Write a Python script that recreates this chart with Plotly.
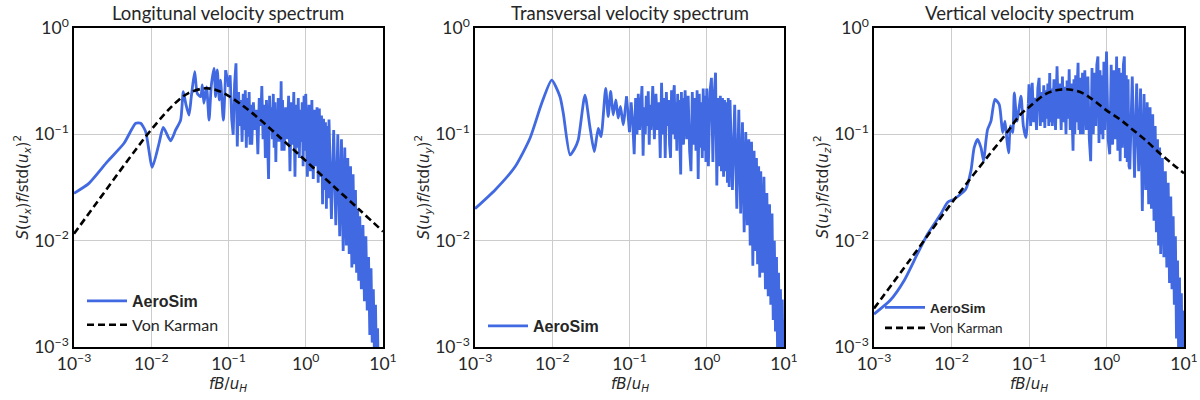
import plotly.graph_objects as go

# ---------------- data ----------------
# shared high-frequency bins (fB/u_H)
f_hf = [0.100, 0.105, 0.110, 0.115, 0.120, 0.125, 0.130, 0.135, 0.140, 0.145,
        0.150, 0.155, 0.160, 0.165, 0.170, 0.175, 0.180, 0.185, 0.190, 0.195,
        0.20, 0.21, 0.22, 0.23, 0.24, 0.25, 0.26, 0.27, 0.28, 0.29,
        0.30, 0.31, 0.32, 0.33, 0.34, 0.35, 0.36, 0.37, 0.38, 0.39,
        0.40, 0.41, 0.42, 0.43, 0.44, 0.45, 0.46, 0.47, 0.48, 0.49,
        0.500, 0.525, 0.550, 0.575, 0.600, 0.625, 0.650, 0.675, 0.700, 0.725,
        0.750, 0.775, 0.800, 0.825, 0.850, 0.875, 0.900, 0.925, 0.950, 0.975,
        1.00, 1.05, 1.10, 1.15, 1.20, 1.25, 1.30, 1.35, 1.40, 1.45,
        1.50, 1.55, 1.60, 1.65, 1.70, 1.75, 1.80, 1.85, 1.90, 1.95,
        2.00, 2.15, 2.30, 2.45, 2.60, 2.75, 2.90, 3.05, 3.20, 3.35,
        3.50, 3.65, 3.80, 3.95, 4.10, 4.25, 4.40, 4.55, 4.70, 4.85,
        5.00, 5.25, 5.50, 5.75, 6.00, 6.25, 6.50, 6.75, 7.00, 7.25,
        7.50, 7.75, 8.00, 8.25, 8.50, 8.75, 9.00, 9.25, 9.50, 9.75, 10.0]

# --- longitudinal (u_x) ---
f_low_x = [0.001, 0.00156, 0.0027, 0.00444, 0.0063, 0.0073, 0.00847, 0.0103, 0.0126,
           0.0143, 0.0178, 0.0207, 0.024, 0.026, 0.0279, 0.0308, 0.033, 0.0365, 0.0394,
           0.0437, 0.0458, 0.048, 0.052, 0.056, 0.060, 0.065, 0.068, 0.0716, 0.076,
           0.079, 0.0857, 0.092]
S_low_x = [0.0279, 0.0346, 0.0553, 0.0824, 0.127, 0.127, 0.106, 0.049, 0.082,
           0.116, 0.087, 0.11, 0.136, 0.252, 0.196, 0.152, 0.226, 0.388, 0.243,
           0.226, 0.291, 0.196, 0.28, 0.136, 0.291, 0.418, 0.226, 0.403, 0.21,
           0.324, 0.136, 0.40]
S_hf_x = [0.28, 0.36, 0.14, 0.099, 0.30, 0.466, 0.077, 0.25, 0.12, 0.21,
          0.085, 0.24, 0.11, 0.26, 0.075, 0.22, 0.095, 0.25, 0.08, 0.19,
          0.08, 0.20, 0.11, 0.17, 0.065, 0.22, 0.12, 0.284, 0.09, 0.19,
          0.06, 0.21, 0.10, 0.038, 0.23, 0.11, 0.18, 0.09, 0.24, 0.075,
          0.20, 0.055, 0.17, 0.10, 0.22, 0.085, 0.19, 0.10, 0.316, 0.07,
          0.21, 0.07, 0.18, 0.09, 0.23, 0.045, 0.20, 0.08, 0.25, 0.04,
          0.19, 0.075, 0.22, 0.06, 0.17, 0.085, 0.20, 0.05, 0.23, 0.07,
          0.24, 0.04, 0.19, 0.045, 0.21, 0.038, 0.17, 0.05, 0.18, 0.035,
          0.175, 0.04, 0.15, 0.022, 0.14, 0.03, 0.13, 0.02, 0.12, 0.025,
          0.138, 0.016, 0.11, 0.014, 0.10, 0.011, 0.09, 0.008, 0.075, 0.009,
          0.06, 0.0075, 0.05, 0.0056, 0.042, 0.006, 0.03, 0.005, 0.02, 0.0042,
          0.017, 0.0035, 0.014, 0.0027, 0.011, 0.0022, 0.007, 0.0013, 0.0055, 0.0011,
          0.0035, 0.0008, 0.0025, 0.0006, 0.0015, 0.0004, 0.0008, 0.0003, 0.0004, 0.0002, 0.0002]
f_vk_x = [0.001, 0.002, 0.005, 0.01, 0.02, 0.03, 0.05, 0.07, 0.1, 0.2, 0.5, 1, 2, 5, 10]
S_vk_x = [0.0116, 0.0231, 0.0573, 0.1106, 0.194, 0.243, 0.271, 0.26, 0.23, 0.16,
          0.089, 0.0564, 0.0356, 0.0194, 0.0122]

# --- transversal (u_y) ---
f_low_y = [0.001, 0.00182, 0.0033, 0.00515, 0.0073, 0.00984, 0.0126, 0.0139, 0.017,
           0.0196, 0.0217, 0.0265, 0.0307, 0.035, 0.0394, 0.0428, 0.0492, 0.053, 0.057,
           0.0615, 0.0666, 0.0713, 0.0765, 0.0828, 0.0915]
S_low_y = [0.020, 0.030, 0.0496, 0.092, 0.196, 0.324, 0.226, 0.158, 0.064,
           0.074, 0.0885, 0.234, 0.118, 0.0687, 0.114, 0.095, 0.271, 0.147, 0.253,
           0.152, 0.211, 0.142, 0.183, 0.123, 0.227]
S_hf_y = [0.105, 0.20, 0.13, 0.065, 0.22, 0.10, 0.24, 0.11, 0.20, 0.284,
          0.063, 0.18, 0.10, 0.23, 0.12, 0.254, 0.08, 0.19, 0.11, 0.21,
          0.284, 0.09, 0.24, 0.11, 0.20, 0.06, 0.305, 0.10, 0.22, 0.06,
          0.25, 0.12, 0.21, 0.08, 0.06, 0.26, 0.10, 0.23, 0.29, 0.09,
          0.20, 0.07, 0.24, 0.10, 0.21, 0.075, 0.042, 0.25, 0.09, 0.22,
          0.08, 0.26, 0.09, 0.23, 0.07, 0.045, 0.25, 0.08, 0.22, 0.07,
          0.26, 0.038, 0.24, 0.075, 0.20, 0.06, 0.27, 0.07, 0.23, 0.055,
          0.27, 0.05, 0.25, 0.34, 0.055, 0.24, 0.38, 0.033, 0.22, 0.05,
          0.23, 0.045, 0.22, 0.04, 0.21, 0.045, 0.20, 0.035, 0.22, 0.032,
          0.21, 0.03, 0.19, 0.02, 0.17, 0.018, 0.13, 0.012, 0.105, 0.014,
          0.09, 0.009, 0.085, 0.0058, 0.07, 0.008, 0.06, 0.006, 0.05, 0.0045,
          0.045, 0.005, 0.04, 0.0035, 0.028, 0.003, 0.022, 0.0025, 0.018, 0.0018,
          0.01, 0.0014, 0.007, 0.0009, 0.005, 0.0007, 0.0035, 0.0006, 0.0028, 0.0005, 0.0018]

# --- vertical (u_z) ---
f_low_z = [0.001, 0.00162, 0.00244, 0.00363, 0.0049, 0.00728, 0.00887, 0.0108, 0.0139,
           0.0153, 0.0178, 0.0196, 0.0217, 0.024, 0.026, 0.0278, 0.0292, 0.0323, 0.0363,
           0.0413, 0.0457, 0.049, 0.052, 0.0546, 0.0575, 0.0616, 0.0646, 0.070, 0.0788,
           0.0845, 0.0912, 0.098]
S_low_z = [0.00204, 0.00275, 0.0042, 0.0075, 0.0115, 0.0178, 0.0229, 0.0246, 0.0284,
           0.0305, 0.0453, 0.075, 0.0898, 0.075, 0.056, 0.0866, 0.111, 0.133, 0.213,
           0.191, 0.104, 0.133, 0.087, 0.067, 0.12, 0.104, 0.245, 0.133, 0.229,
           0.12, 0.093, 0.195]
S_hf_z = [0.295, 0.12, 0.305, 0.13, 0.22, 0.11, 0.27, 0.34, 0.12, 0.25,
          0.13, 0.29, 0.115, 0.26, 0.14, 0.30, 0.12, 0.378, 0.13, 0.27,
          0.12, 0.33, 0.11, 0.436, 0.14, 0.30, 0.11, 0.35, 0.13, 0.28,
          0.10, 0.32, 0.14, 0.41, 0.11, 0.30, 0.12, 0.07, 0.33, 0.10,
          0.36, 0.13, 0.30, 0.47, 0.11, 0.34, 0.10, 0.29, 0.12, 0.38,
          0.10, 0.40, 0.11, 0.35, 0.09, 0.056, 0.42, 0.10, 0.38, 0.12,
          0.45, 0.54, 0.083, 0.40, 0.10, 0.36, 0.09, 0.48, 0.11, 0.42,
          0.60, 0.09, 0.065, 0.45, 0.08, 0.40, 0.09, 0.54, 0.07, 0.42,
          0.056, 0.38, 0.075, 0.45, 0.54, 0.06, 0.36, 0.055, 0.33, 0.05,
          0.047, 0.35, 0.039, 0.30, 0.045, 0.27, 0.019, 0.24, 0.03, 0.20,
          0.022, 0.18, 0.02, 0.154, 0.0154, 0.12, 0.012, 0.09, 0.009, 0.075,
          0.0075, 0.06, 0.007, 0.045, 0.0056, 0.035, 0.004, 0.026, 0.0035, 0.017,
          0.0025, 0.011, 0.0012, 0.0065, 0.001, 0.0045, 0.0008, 0.0032, 0.0006, 0.0022, 0.0009]
f_vk_z = [0.001, 0.003, 0.01, 0.03, 0.05, 0.0766, 0.1, 0.17, 0.25, 0.35, 0.5, 0.7, 1,
          1.5, 2.2, 3.2, 4.9, 7, 10]
S_vk_z = [0.0023, 0.0068, 0.0225, 0.063, 0.1, 0.152, 0.18, 0.243, 0.263, 0.263,
          0.243, 0.206, 0.168, 0.138, 0.11, 0.088, 0.066, 0.053, 0.043]

titles = ["Longitunal velocity spectrum", "Transversal velocity spectrum",
          "Vertical velocity spectrum"]
comp = ["x", "y", "z"]
x_tickvals = [0.001, 0.01, 0.1, 1, 10]
x_ticktext = ["10<sup>\u22123</sup>", "10<sup>\u22122</sup>", "10<sup>\u22121</sup>",
              "10<sup>0</sup>", "10<sup>1</sup>"]
y_tickvals = [0.001, 0.01, 0.1, 1]
y_ticktext = ["10<sup>\u22123</sup>", "10<sup>\u22122</sup>", "10<sup>\u22121</sup>",
              "10<sup>0</sup>"]

# ---------------- figure ----------------
BLUE = "#4169E1"
TXT = "#262626"
W, H = 1200, 400
x_dom = [(74 / W, 383 / W), (475 / W, 784 / W), (874 / W, 1184 / W)]
y_dom = (1 - 347 / H, 1 - 28 / H)

panels = [
    (f_low_x, S_low_x, S_hf_x, f_vk_x, S_vk_x),
    (f_low_y, S_low_y, S_hf_y, None, None),
    (f_low_z, S_low_z, S_hf_z, f_vk_z, S_vk_z),
]

fig = go.Figure()
legend_names = ["legend", "legend2", "legend3"]
for i, (fl, sl, sh, fv, sv) in enumerate(panels):
    xa = "x" if i == 0 else f"x{i+1}"
    ya = "y" if i == 0 else f"y{i+1}"
    lg = legend_names[i]
    aero_name = ('<span style="font-family:Liberation Sans">'
                 '<b>AeroSim</b></span>')
    fig.add_trace(go.Scatter(
        x=fl, y=sl, mode="lines", xaxis=xa, yaxis=ya, legend=lg,
        name=aero_name, legendgroup=f"a{i}",
        line=dict(color=BLUE, width=2.8, shape="spline", smoothing=0.6)))
    fig.add_trace(go.Scatter(
        x=[fl[-1]] + f_hf, y=[sl[-1]] + sh, mode="lines", xaxis=xa, yaxis=ya,
        legend=lg, showlegend=False, legendgroup=f"a{i}",
        line=dict(color=BLUE, width=2.8)))
    if fv is not None:
        fig.add_trace(go.Scatter(
            x=fv, y=sv, mode="lines", xaxis=xa, yaxis=ya, legend=lg,
            name='<span style="font-family:Lato">Von Karman</span>',
            line=dict(color="black", width=2.6, dash="7px,4px",
                      shape="spline", smoothing=1.0)))

axis_common = dict(type="log", showgrid=True, gridcolor="#cccccc", gridwidth=1,
                   showline=True, linecolor="black", linewidth=1.5, mirror=True,
                   ticks="", zeroline=False, automargin=False,
                   tickfont=dict(family="Lato", size=17.5, color=TXT))
layout = dict(width=W, height=H, margin=dict(l=0, r=0, t=0, b=0, autoexpand=False),
              paper_bgcolor="white", plot_bgcolor="white", showlegend=True)
for i in range(3):
    xk = "xaxis" if i == 0 else f"xaxis{i+1}"
    yk = "yaxis" if i == 0 else f"yaxis{i+1}"
    ya = "y" if i == 0 else f"y{i+1}"
    xa = "x" if i == 0 else f"x{i+1}"
    layout[xk] = dict(axis_common, domain=x_dom[i], range=[-3, 1], anchor=ya,
                      tickvals=x_tickvals, ticktext=x_ticktext)
    layout[yk] = dict(axis_common, domain=y_dom, range=[-3, 0], anchor=xa,
                      tickvals=y_tickvals, ticktext=y_ticktext)

leg_common = dict(xanchor="left", yanchor="top", bgcolor="rgba(0,0,0,0)",
                  borderwidth=0, itemwidth=40, tracegroupgap=0)
layout["legend"] = dict(leg_common, x=82 / W, y=1 - 284 / H,
                        font=dict(family="Lato", size=16, color=TXT))
layout["legend2"] = dict(leg_common, x=483 / W, y=1 - 309 / H,
                         font=dict(family="Lato", size=16, color=TXT))
layout["legend3"] = dict(leg_common, x=880 / W, y=1 - 292 / H,
                         font=dict(family="Lato", size=13.5, color=TXT))
fig.update_layout(**layout)

ann = []
ylab_font = dict(family="DejaVu Sans", size=15, color=TXT)
for i in range(3):
    x0, x1 = x_dom[i]
    xc = (x0 + x1) / 2
    ann.append(dict(text=titles[i], x=xc, y=1 - 13 / H, xref="paper", yref="paper",
                    showarrow=False, xanchor="center", yanchor="middle",
                    font=dict(family="Lato", size=18.5, color=TXT)))
    ann.append(dict(text="<i>fB</i>/<i>u</i><sub><i>H</i></sub>", x=xc, y=1 - 384 / H,
                    xref="paper", yref="paper", showarrow=False,
                    xanchor="center", yanchor="middle", font=ylab_font))
    c = comp[i]
    ann.append(dict(text=f"<i>S</i>(<i>u</i><sub><i>{c}</i></sub>)<i>f</i>/std(<i>u</i>"
                         f"<sub><i>{c}</i></sub>)<sup>2</sup>",
                    x=x0 - 52 / W, y=(y_dom[0] + y_dom[1]) / 2, xref="paper", yref="paper",
                    showarrow=False, textangle=-90, xanchor="center", yanchor="middle",
                    font=ylab_font))
fig.update_layout(annotations=ann)

fig.write_html("out.html", config={"displayModeBar": False},
               post_script="document.body.style.margin='0';document.body.style.padding='0';")
